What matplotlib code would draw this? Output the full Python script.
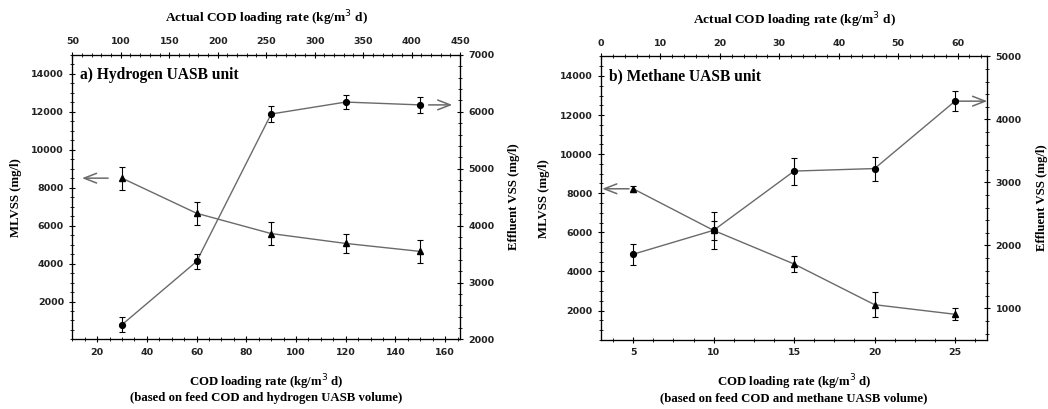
import numpy as np
import matplotlib
matplotlib.use("Agg")
import matplotlib.pyplot as plt
from matplotlib.ticker import AutoMinorLocator, MultipleLocator

# hydrogen UASB unit (panel a)
h_rate = [30, 60, 90, 120, 150]
h_mlvss = [8500, 6650, 5580, 5060, 4640]
h_mlvss_err = [600, 600, 620, 520, 620]
h_vss = [2260, 3370, 5960, 6170, 6120]
h_vss_err = [135, 135, 135, 130, 135]

# methane UASB unit (panel b)
m_rate = [5, 10, 15, 20, 25]
m_mlvss = [8230, 6100, 4380, 2300, 1810]
m_mlvss_err = [150, 500, 420, 640, 310]
m_vss = [1860, 2240, 3180, 3220, 4290]
m_vss_err = [165, 290, 215, 190, 160]

serif = "Liberation Serif"
sans = "DejaVu Sans"
line_col = "#6a6a6a"


def style_ticks(ax, labelsize=6.8):
    ax.tick_params(which="major", direction="inout", length=5, width=0.8,
                   labelsize=labelsize)
    ax.tick_params(which="minor", direction="inout", length=2.5, width=0.6)
    for lab in ax.get_xticklabels() + ax.get_yticklabels():
        lab.set_family(sans)
        lab.set_fontweight("bold")
        lab.set_color("#222222")


def panel(fig, rect, rate, mlvss, mlvss_err, vss, vss_err, xlim, xticks,
          top_lim, top_step, ylim, vss_lim, vss_step, title, base_txt,
          left_arrow_tip, right_arrow_tip):
    ax = fig.add_axes(rect)
    ax2 = ax.twinx()
    ax3 = ax.twiny()

    ax.plot(rate, mlvss, color=line_col, lw=1, zorder=2)
    ax.errorbar(rate, mlvss, yerr=mlvss_err, fmt="^", ms=4.5, color="black",
                ecolor="black", elinewidth=0.8, capsize=2.5, capthick=0.8,
                zorder=3)
    ax2.plot(rate, vss, color=line_col, lw=1, zorder=2)
    ax2.errorbar(rate, vss, yerr=vss_err, fmt="o", ms=4.2, color="black",
                 ecolor="black", elinewidth=0.8, capsize=2.5, capthick=0.8,
                 zorder=3)

    ax.set_xlim(*xlim)
    ax.set_xticks(xticks)
    ax.xaxis.set_minor_locator(AutoMinorLocator(4))
    ax.set_ylim(*ylim)
    ax.yaxis.set_major_locator(MultipleLocator(2000))
    ax.yaxis.set_minor_locator(AutoMinorLocator(4))
    ax.set_yticks([t for t in np.arange(2000, 14001, 2000)])

    ax2.set_ylim(*vss_lim)
    ax2.yaxis.set_major_locator(MultipleLocator(vss_step))
    ax2.yaxis.set_minor_locator(AutoMinorLocator(5))

    ax3.set_xlim(*top_lim)
    ax3.xaxis.set_major_locator(MultipleLocator(top_step))
    ax3.xaxis.set_minor_locator(AutoMinorLocator(5))

    for a in (ax, ax2, ax3):
        style_ticks(a)
        for s in a.spines.values():
            s.set_linewidth(0.8)
    ax2.set_ylim(*vss_lim)

    lab_kw = dict(family=serif, fontweight="bold", fontsize=9.2)
    ax.set_ylabel("MLVSS (mg/l)", labelpad=7, **lab_kw)
    ax2.set_ylabel("Effluent VSS (mg/l)", labelpad=10, **lab_kw)
    ax3.set_xlabel("Actual COD loading rate (kg/m$^3$ d)", labelpad=11,
                   family=serif, fontweight="bold", fontsize=9.6)
    ax.set_xlabel("COD loading rate (kg/m$^3$ d)\n(based on feed COD and "
                  + base_txt + " UASB volume)", labelpad=11, linespacing=1.0,
                  **lab_kw)

    ax.text(0.02, 0.93, title, transform=ax.transAxes, family=serif,
            fontweight="bold", fontsize=11.2, va="center", ha="left")

    arrow = dict(arrowstyle="->,head_length=0.9,head_width=0.35",
                 color=line_col, lw=1.1, shrinkA=0, shrinkB=0)
    # arrow from first MLVSS point to the left axis
    ax.annotate("", xy=(left_arrow_tip[0], mlvss[0]),
                xycoords=("axes fraction", "data"),
                xytext=(rate[0], mlvss[0]), textcoords="data",
                arrowprops=dict(arrow, shrinkA=left_arrow_tip[1]))
    # arrow from last VSS point to the right axis
    ax2.annotate("", xy=(right_arrow_tip[0], vss[-1]),
                 xycoords=("axes fraction", "data"),
                 xytext=(rate[-1], vss[-1]), textcoords="data",
                 arrowprops=dict(arrow, shrinkA=right_arrow_tip[1]))
    return ax


fig = plt.figure(figsize=(10.48, 4.09), dpi=100)

panel(fig, [0.069, 0.170, 0.370, 0.696], h_rate, h_mlvss, h_mlvss_err,
      h_vss, h_vss_err, (10, 166), np.arange(20, 161, 20), (50, 450), 50,
      (0, 15000), (2000, 7000), 1000, "a) Hydrogen UASB unit", "hydrogen",
      (0.025, 10), (0.98, 6))

panel(fig, [0.5735, 0.169, 0.3685, 0.693], m_rate, m_mlvss, m_mlvss_err,
      m_vss, m_vss_err, (3, 27), np.arange(5, 26, 5), (0, 65), 10,
      (500, 15000), (500, 5000), 1000, "b) Methane UASB unit", "methane",
      (0.003, 3), (1.0, 3))

fig.savefig("out.png", dpi=100)
